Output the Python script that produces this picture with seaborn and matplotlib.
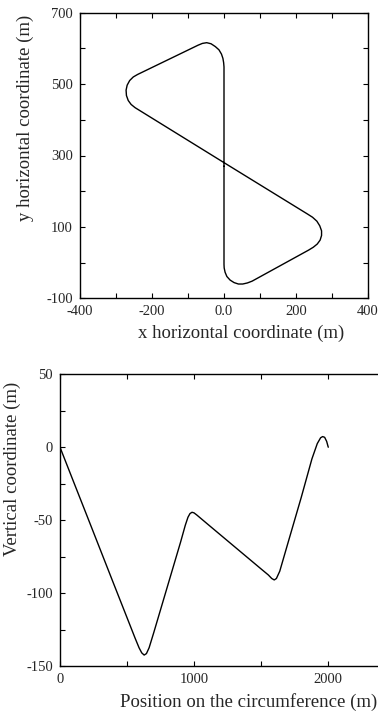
import matplotlib
matplotlib.use("Agg")
import matplotlib.pyplot as plt
import seaborn as sns
import pandas as pd
from matplotlib.ticker import MultipleLocator, FixedLocator

# ---------------- data ----------------
# Track layout (x, y) in metres
track_x = [0, 0, -1, -3, -7, -14, -24, -36, -48, -60, -72,
           -240, -252, -262, -269, -272, -271, -266, -258, -247,
           0, 232, 246, 258, 266, 271, 271, 267, 259, 248, 235,
           78, 65, 52, 40, 28, 17, 8, 3, 0.5, 0, 0]
track_y = [270, 548, 560, 572, 584, 596, 605, 613, 616, 614, 609,
           527, 520, 510, 497, 483, 468, 454, 443, 434,
           280, 136, 127, 116, 103, 89, 76, 63, 52, 43, 35,
           -52, -57, -60, -60, -56, -49, -39, -27, -15, -5, 270]

# Vertical profile along the circumference
pos_s = [0, 100, 200, 300, 400, 500, 560, 590, 610, 628, 645, 665, 700,
         800, 900, 935, 955, 970, 985, 1000, 1020, 1100, 1200, 1300, 1400,
         1500, 1555, 1580, 1599, 1615, 1640, 1700, 1800, 1880, 1920, 1945,
         1960, 1975, 1990, 2002]
vert_z = [0, -23.4, -46.7, -70.1, -93.5, -116.8, -130.8, -137.5, -141, -142.5,
          -141.5, -137.5, -127, -96, -65, -53.5, -48, -45.5, -44.6, -45, -46.4,
          -52.6, -60.3, -68, -75.7, -83.4, -87.6, -90, -91, -90, -85, -66,
          -34.5, -8, 2.5, 6.5, 7.3, 6.8, 4, 0]

top_xticks = [-400, -200, 0, 200, 400]
top_xticklabels = ["-400", "-200", "0.0", "200", "400"]
top_yticks = [-100, 100, 300, 500, 700]
bot_xticks = [0, 1000, 2000]
bot_yticks = [-150, -100, -50, 0, 50]

# ---------------- style ----------------
sns.set_style("ticks")
plt.rcParams['font.family'] = ['Liberation Serif', 'DejaVu Serif']
plt.rcParams['axes.unicode_minus'] = False

W, H = 378, 717
fig = plt.figure(figsize=(W / 100, H / 100), dpi=100)

def px_axes(left, right, top, bottom):
    return fig.add_axes([left / W, 1 - bottom / H, (right - left) / W, (bottom - top) / H])

ax1 = px_axes(80, 368, 12.7, 298.3)
ax2 = px_axes(60, 381.6, 374.3, 666)

df_track = pd.DataFrame({"x": track_x, "y": track_y})
df_prof = pd.DataFrame({"s": pos_s, "z": vert_z})

sns.lineplot(data=df_track, x="x", y="y", sort=False, estimator=None,
             color="black", linewidth=1.0, ax=ax1)
sns.lineplot(data=df_prof, x="s", y="z", sort=False, estimator=None,
             color="black", linewidth=1.0, ax=ax2)

# top axes
ax1.set_xlim(-400, 400)
ax1.set_ylim(-100, 700)
ax1.xaxis.set_major_locator(FixedLocator(top_xticks))
ax1.set_xticklabels(top_xticklabels)
ax1.xaxis.set_minor_locator(MultipleLocator(100))
ax1.yaxis.set_major_locator(FixedLocator(top_yticks))
ax1.yaxis.set_minor_locator(MultipleLocator(100))
ax1.set_xlabel("x horizontal coordinate (m)", fontsize=13.5)
ax1.set_ylabel("y horizontal coordinate (m)", fontsize=13.5)
ax1.xaxis.set_label_coords(0.559, -0.093)
ax1.yaxis.set_label_coords(-0.158, 0.631)

# bottom axes
ax2.set_xlim(0, 2400)
ax2.set_ylim(-150, 50)
ax2.xaxis.set_major_locator(FixedLocator(bot_xticks))
ax2.xaxis.set_minor_locator(MultipleLocator(500))
ax2.yaxis.set_major_locator(FixedLocator(bot_yticks))
ax2.yaxis.set_minor_locator(MultipleLocator(25))
ax2.set_xlabel("Position on the circumference (m)", fontsize=13.5)
ax2.set_ylabel("Vertical coordinate (m)", fontsize=13.5)
ax2.xaxis.set_label_coords(0.585, -0.092)
ax2.yaxis.set_label_coords(-0.121, 0.675)

for ax, right in ((ax1, True), (ax2, False)):
    ax.tick_params(which="both", direction="in", top=True, right=right,
                   width=0.8, color="black")
    ax.tick_params(which="major", length=3.5, labelsize=10.5, pad=5)
    ax.tick_params(which="minor", length=3.5)
    for sp in ax.spines.values():
        sp.set_visible(True)
        sp.set_linewidth(1.0)
        sp.set_color("black")

fig.savefig("out.png", dpi=100)
